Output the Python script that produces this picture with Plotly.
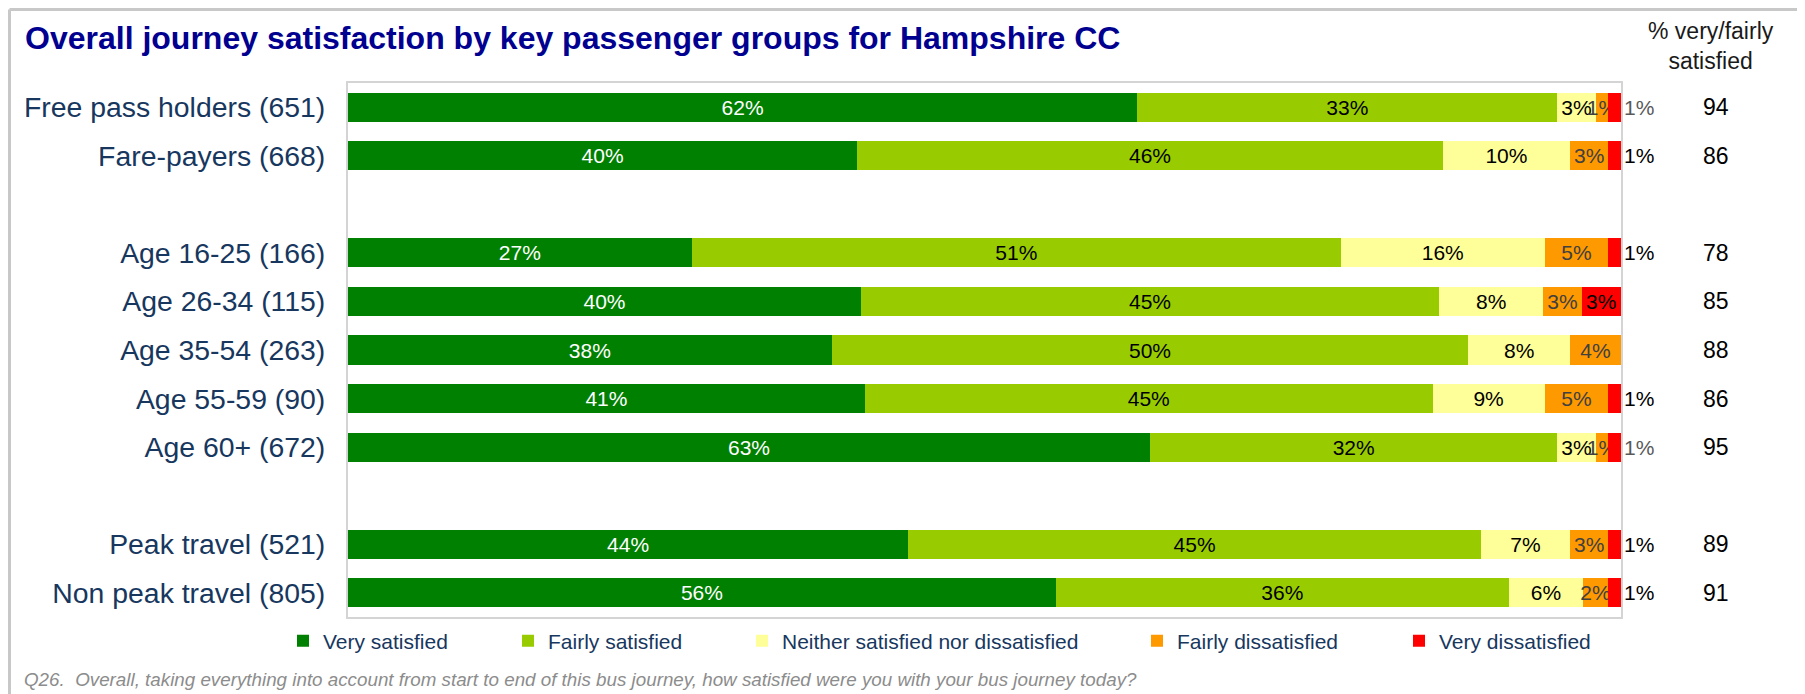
import plotly.graph_objects as go

# passenger groups (blank entries are spacer rows)
groups = ["Free pass holders (651)", "Fare-payers (668)", " ",
          "Age 16-25 (166)", "Age 26-34 (115)", "Age 35-54 (263)",
          "Age 55-59 (90)", "Age 60+ (672)", "  ",
          "Peak travel (521)", "Non peak travel (805)"]

very_satisfied = [62, 40, None, 27, 40.3, 38, 40.6, 63, None, 44, 55.6]
fairly_satisfied = [33, 46, None, 51, 45.4, 50, 44.6, 32, None, 45, 35.6]
neither = [3, 10, None, 16, 8.2, 8, 8.8, 3, None, 7, 5.8]
fairly_dissatisfied = [1, 3, None, 5, 3.0, 4, 5.0, 1, None, 3, 2.0]
very_dissatisfied = [1, 1, None, 1, 3.1, 0, 1.0, 1, None, 1, 1.0]
pct_very_fairly = [94, 86, None, 78, 85, 88, 86, 95, None, 89, 91]

# page is 1805x694 but the html body adds an 8px margin
OFF = 8
W, H = 1805 - OFF, 694 - OFF
PL, PT, PW, PH = 348, 83, 1273, 534      # plot area in page pixels
ML, MT = PL - OFF, PT - OFF
MR, MB = W - ML - PW, H - MT - PH


def px_x(px):
    return (px - PL) / PW


def px_y(py):
    return (PT + PH - py) / PH


def labels(vals):
    return ["" if not v else f"{round(v)}%" for v in vals]


series = [
    ("Very satisfied", very_satisfied, "#008000", "white"),
    ("Fairly satisfied", fairly_satisfied, "#99CC00", "black"),
    ("Neither satisfied nor dissatisfied", neither, "#FFFF99", "black"),
    ("Fairly dissatisfied", fairly_dissatisfied, "#FF9900", "#404040"),
    ("Very dissatisfied", very_dissatisfied, "#FF0000", "black"),
]
legend_px = [302, 527, 761, 1156, 1418]

fig = go.Figure()
for i, (name, vals, color, txtcol) in enumerate(series):
    lg = "legend" if i == 0 else f"legend{i + 1}"
    if name == "Very dissatisfied":
        pos = ["inside" if (v or 0) >= 2 else "outside" for v in vals]
        tcol = ["#595959" if g in ("Free pass holders (651)", "Age 60+ (672)") else "black" for g in groups]
    else:
        pos = "inside"
        tcol = txtcol
    fig.add_trace(go.Bar(
        y=groups, x=vals, name=name, orientation="h",
        marker=dict(color=color, line=dict(width=0)),
        text=labels(vals), textposition=pos, textangle=0,
        insidetextanchor="middle", constraintext="none",
        textfont=dict(color=tcol, size=21, family="Liberation Sans, Arial"),
        cliponaxis=False, legend=lg, hoverinfo="skip",
    ))

# right-hand summary column
for g, v in zip(groups, pct_very_fairly):
    if v is None:
        continue
    fig.add_annotation(x=px_x(1716), xref="paper", y=g, yref="y", text=str(v),
                       showarrow=False, xanchor="center",
                       font=dict(size=23, color="black"))
fig.add_annotation(x=px_x(1711), xref="paper", y=px_y(46), yref="paper",
                   text="% very/fairly<br>satisfied", showarrow=False,
                   xanchor="center", yanchor="middle", align="center",
                   font=dict(size=23, color="#1a1a1a"))

# footnote
fig.add_annotation(x=px_x(22), xref="paper", y=px_y(679), yref="paper",
                   text="<i>Q26.  Overall, taking everything into account from start to end of this bus journey, "
                        "how satisfied were you with your bus journey today?</i>",
                   showarrow=False, xanchor="left", yanchor="middle",
                   font=dict(size=18.8, color="#8C8C8C"))

# outer frame lines (top and left)
fig.add_shape(type="line", xref="paper", yref="paper", x0=px_x(OFF + 1.5), x1=px_x(1805), y0=px_y(OFF + 1.5), y1=px_y(OFF + 1.5),
              line=dict(color="#C8C8C8", width=3))
fig.add_shape(type="line", xref="paper", yref="paper", x0=px_x(OFF + 1.5), x1=px_x(OFF + 1.5), y0=px_y(OFF + 1.5), y1=px_y(694),
              line=dict(color="#C8C8C8", width=3))

legend_style = dict(orientation="h", xanchor="left", yanchor="middle", y=px_y(641),
                    font=dict(size=21, color="#17375E"), bgcolor="rgba(0,0,0,0)")
layout_legends = {}
for i, lx in enumerate(legend_px):
    key = "legend" if i == 0 else f"legend{i + 1}"
    layout_legends[key] = dict(legend_style, x=px_x(lx - 19))

fig.update_layout(
    width=W, height=H,
    margin=dict(l=ML, r=MR, t=MT, b=MB, autoexpand=False),
    paper_bgcolor="white", plot_bgcolor="white",
    barmode="stack", bargap=0.4,
    font=dict(family="Liberation Sans, Arial"),
    title=dict(text="<b>Overall journey satisfaction by key passenger groups for Hampshire CC</b>",
               x=(25 - OFF) / W, xanchor="left", xref="container",
               y=1 - (38 - OFF) / H, yanchor="middle", yref="container",
               font=dict(size=32, color="#000090")),
    xaxis=dict(range=[0, 100], showticklabels=False, showgrid=False, zeroline=False, automargin=False,
               showline=True, mirror=True, linecolor="#D4D4D4", linewidth=2, fixedrange=True),
    yaxis=dict(categoryorder="array", categoryarray=groups, range=[10.5, -0.5], automargin=False,
               showgrid=False, zeroline=False, ticks="", ticklabelstandoff=15,
               showline=True, mirror=True, linecolor="#D4D4D4", linewidth=2,
               tickfont=dict(size=28.4, color="#17375E")),
    showlegend=True,
    **layout_legends,
)

fig.write_html("out.html")
